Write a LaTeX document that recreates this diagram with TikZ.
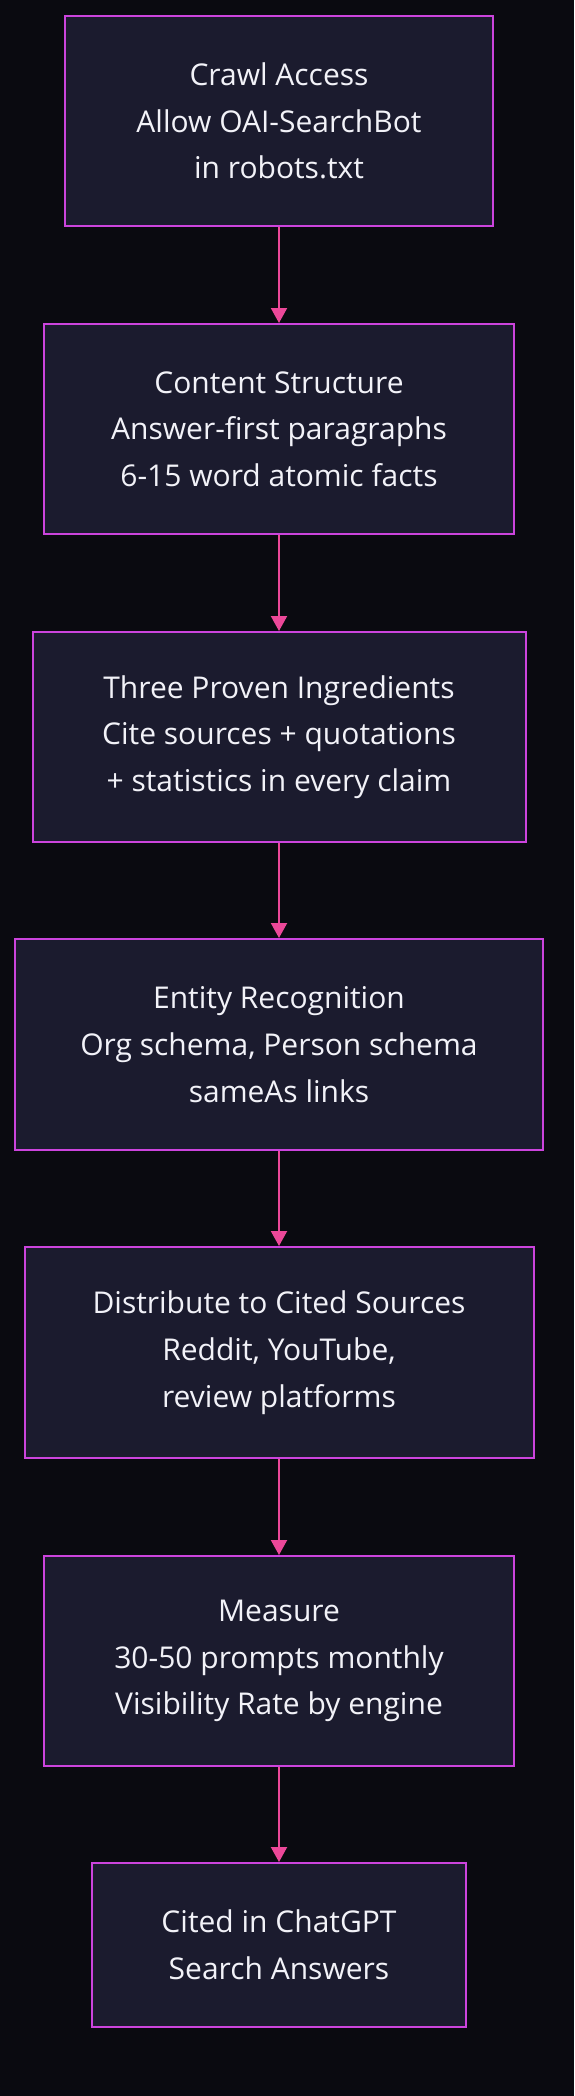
\documentclass[tikz,border=0pt]{standalone}
\usepackage{fontspec}
\setmainfont{Open Sans}
\usetikzlibrary{arrows.meta}
\definecolor{bg}{HTML}{0A0A10}
\definecolor{boxfill}{HTML}{1B1B2E}
\definecolor{boxline}{HTML}{CC44DD}
\definecolor{arrowc}{HTML}{EC4899}
\definecolor{txt}{HTML}{F2F2F8}
\tikzset{
  stepbox/.style={draw=boxline, fill=boxfill, line width=2pt, rectangle, align=center,
    text=txt, font=\fontsize{30}{46.7}\selectfont, inner sep=0pt},
  flow/.style={draw=arrowc, line width=2pt, -{Triangle[length=15pt,width=16pt,fill=arrowc]}}
}
\begin{document}
\begin{tikzpicture}[x=1pt,y=-1pt]
\fill[bg] (0,0) rectangle (574,2096);
\useasboundingbox (0,0) rectangle (574,2096);
\node[stepbox, minimum width=428pt, minimum height=210pt] (n1) at (279,121) {Crawl Access\\Allow OAI-SearchBot\\in robots.txt};
\node[stepbox, minimum width=470pt, minimum height=210pt] (n2) at (279,429) {Content Structure\\Answer-first paragraphs\\6-15 word atomic facts};
\node[stepbox, minimum width=493pt, minimum height=210pt] (n3) at (279,737) {Three Proven Ingredients\\Cite sources + quotations\\+ statistics in every claim};
\node[stepbox, minimum width=528pt, minimum height=211pt] (n4) at (279,1044.5) {Entity Recognition\\Org schema, Person schema\\sameAs links};
\node[stepbox, minimum width=509pt, minimum height=211pt] (n5) at (279,1352.5) {Distribute to Cited Sources\\Reddit, YouTube,\\review platforms};
\node[stepbox, minimum width=470pt, minimum height=210pt] (n6) at (279,1661) {Measure\\30-50 prompts monthly\\Visibility Rate by engine};
\node[stepbox, minimum width=374pt, minimum height=164pt] (n7) at (279,1945) {Cited in ChatGPT\\Search Answers};
\draw[flow] (n1.south) -- (n2.north);
\draw[flow] (n2.south) -- (n3.north);
\draw[flow] (n3.south) -- (n4.north);
\draw[flow] (n4.south) -- (n5.north);
\draw[flow] (n5.south) -- (n6.north);
\draw[flow] (n6.south) -- (n7.north);
\end{tikzpicture}
\end{document}
